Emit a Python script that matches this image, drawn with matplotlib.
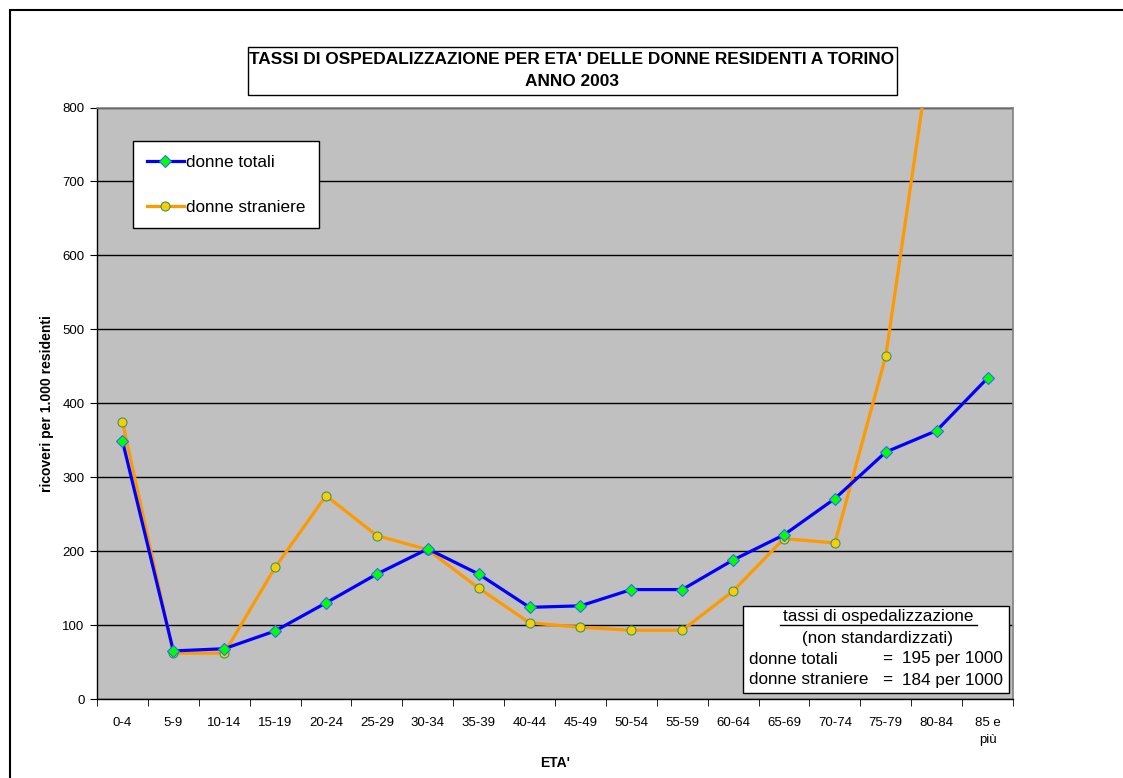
import numpy as np
import matplotlib
matplotlib.use("Agg")
import matplotlib.pyplot as plt
from matplotlib.patches import Rectangle
from matplotlib.lines import Line2D

plt.rcParams['font.family'] = ['Liberation Sans', 'DejaVu Sans']

# fasce d'età e tassi (ricoveri per 1.000 residenti)
eta = ["0-4", "5-9", "10-14", "15-19", "20-24", "25-29", "30-34", "35-39",
       "40-44", "45-49", "50-54", "55-59", "60-64", "65-69", "70-74",
       "75-79", "80-84", "85 e\npiù"]
donne_totali = [349, 65, 68, 92, 130, 169, 203, 169, 124, 126, 148, 148,
                188, 222, 271, 334, 363, 434]
donne_straniere = [375, 62, 62, 178, 275, 221, 202, 150, 103, 97, 93, 93,
                   146, 217, 211, 464, 935, np.nan]

tasso_totali = 195
tasso_straniere = 184

W, H = 1123, 778
fig = plt.figure(figsize=(W / 100, H / 100), dpi=100)

def fx(px):
    return px / W

def fy(py):
    return 1 - py / H

# cornice esterna
fig.patches.append(Rectangle((fx(10), fy(800)), fx(1200), fy(10) - fy(800),
                             transform=fig.transFigure, fill=False,
                             edgecolor='black', linewidth=1.5))

ax = fig.add_axes([fx(97), fy(699), fx(1013) - fx(97), fy(107.5) - fy(699)])
ax.set_facecolor('#C0C0C0')

x = np.arange(len(eta))
ax.plot(x, donne_totali, color='#0000FF', linewidth=2.3, marker='D',
        markersize=6.5, markerfacecolor='#00FF00', markeredgecolor='#3366FF',
        markeredgewidth=0.8, label='donne totali', zorder=4)
ax.plot(x, donne_straniere, color='#FF9900', linewidth=2.3, marker='o',
        markersize=6.5, markerfacecolor='#FFCC00', markeredgecolor='#339966',
        markeredgewidth=0.8, label='donne straniere', zorder=3)

ax.set_xlim(-0.5, len(eta) - 0.5)
ax.set_ylim(0, 800)
ax.set_yticks(range(0, 801, 100))
ax.yaxis.grid(True, color='black', linewidth=1)
ax.set_axisbelow(True)

ax.set_xticks(x)
ax.set_xticklabels(eta, fontsize=9.5, va='top', linespacing=1.6)
ax.set_xticks(np.arange(-0.5, len(eta), 1), minor=True)
ax.tick_params(axis='x', which='major', length=0, pad=13)
ax.tick_params(axis='x', which='minor', length=5, color='black', direction='out')
ax.tick_params(axis='y', labelsize=9.5, length=5, color='black', direction='out', pad=4)

for s in ['top', 'right']:
    ax.spines[s].set_color('#808080')
    ax.spines[s].set_linewidth(1.2)
for s in ['left', 'bottom']:
    ax.spines[s].set_color('black')
    ax.spines[s].set_linewidth(1)

ax.set_xlabel("ETA'", fontsize=10, fontweight='bold')
ax.xaxis.set_label_coords(0.5, -(763 - 699) / 591.5)
ax.xaxis.label.set_va('center')
ax.set_ylabel("ricoveri per 1.000 residenti", fontsize=10, fontweight='bold', labelpad=6)

# titolo in riquadro
fig.patches.append(Rectangle((fx(248), fy(95)), fx(897) - fx(248), fy(47) - fy(95),
                             transform=fig.transFigure, facecolor='white',
                             edgecolor='black', linewidth=1))
fig.text(fx(572), fy(59), "TASSI DI OSPEDALIZZAZIONE PER ETA' DELLE DONNE RESIDENTI A TORINO",
         ha='center', va='center', fontsize=12.4, fontweight='bold')
fig.text(fx(572), fy(81), "ANNO 2003", ha='center', va='center',
         fontsize=12.4, fontweight='bold')

leg = ax.legend(loc='upper left', bbox_to_anchor=(fx(133), fy(141)),
                bbox_transform=fig.transFigure, fontsize=12.3, frameon=True,
                fancybox=False, edgecolor='black', framealpha=1,
                handlelength=2.2, handletextpad=0.1, labelspacing=1.75,
                borderpad=0.8, borderaxespad=0)
leg.get_frame().set_linewidth(1)

# riquadro con i tassi complessivi
ax.add_patch(Rectangle((fx(743), fy(693)), fx(1009) - fx(743), fy(606) - fy(693),
                       transform=fig.transFigure, facecolor='white',
                       edgecolor='black', linewidth=1, zorder=6, clip_on=False))
fig.text(fx(878), fy(617), "tassi di ospedalizzazione", ha='center', va='center',
         fontsize=12.3, zorder=7)
fig.lines.append(Line2D([fx(780), fx(977)], [fy(625), fy(625)],
                        transform=fig.transFigure, color='black', linewidth=1, zorder=7))
fig.text(fx(878), fy(638), "(non standardizzati)", ha='center', va='center',
         fontsize=12.3, zorder=7)
for py, nome, val in [(659, "donne totali", tasso_totali),
                      (680, "donne straniere", tasso_straniere)]:
    fig.text(fx(749), fy(py), nome, ha='left', va='center', fontsize=12.3, zorder=7)
    fig.text(fx(882), fy(py), "=", ha='left', va='center', fontsize=12.3, zorder=7)
    fig.text(fx(1003), fy(py), f"{val} per 1000", ha='right', va='center',
             fontsize=12.3, zorder=7)

fig.savefig("out.png", dpi=100)
